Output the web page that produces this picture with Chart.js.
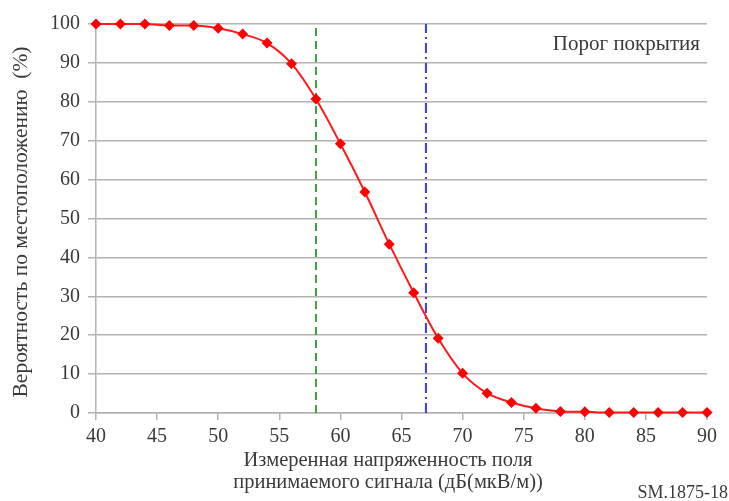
<!DOCTYPE html>
<html>
<head>
<meta charset="utf-8">
<title>Вероятность по местоположению</title>
<script src="https://cdn.jsdelivr.net/npm/chart.js@4.4.1/dist/chart.umd.min.js"></script>
<style>
  body { margin: 0; background: #fff; }
  canvas { display: block; }
</style>
</head>
<body>
<canvas id="mycanvas" width="729" height="501"></canvas>
<script>
// напряженность поля, дБ(мкВ/м)
var fieldStrength = [40, 42, 44, 46, 48, 50, 52, 54, 56, 58, 60, 62, 64,
                     66, 68, 70, 72, 74, 76, 78, 80, 82, 84, 86, 88, 90];
// вероятность по местоположению, %
var probability = [100, 100, 100, 99.6, 99.6, 98.9, 97.4, 95.1, 89.8, 80.7, 69.2, 56.8, 43.4,
                   30.9, 19.2, 10.2, 5.1, 2.7, 1.2, 0.4, 0.3, 0.1, 0.1, 0.1, 0.1, 0.1];
// пороги покрытия
var thresholdGreen = 58;
var thresholdBlue = 67;
var yRange = [0, 100];
var xRange = [40, 90];

var xTitle = ['Измеренная напряженность поля', 'принимаемого сигнала (дБ(мкВ/м))'];
var yTitle = 'Вероятность по местоположению  (%)';

var serif = '"Liberation Serif", "Times New Roman", serif';
var textColor = '#3a3a3a';
var gridColor = '#b2b2b2';

var points = [];
for (var i in fieldStrength) {
    points.push({x: fieldStrength[i], y: probability[i]});
}

function vline(x) {
    return [{x: x, y: yRange[0]}, {x: x, y: yRange[1]}];
}

// подписи осей и прочий текст
var labelsPlugin = {
    id: 'labels',
    afterDraw: function(chart) {
        var ctx = chart.ctx;
        ctx.save();
        ctx.fillStyle = textColor;
        ctx.textBaseline = 'middle';

        ctx.textAlign = 'right';
        ctx.font = '21px ' + serif;
        ctx.fillText('Порог покрытия', 700, 44);
        ctx.font = '18px ' + serif;
        ctx.fillText('SM.1875-18', 728, 493);

        ctx.textAlign = 'center';
        ctx.font = '20.5px ' + serif;
        ctx.fillText(xTitle[0], 388, 461);
        ctx.fillText(xTitle[1], 388, 483);

        ctx.translate(21, 222);
        ctx.rotate(-Math.PI / 2);
        ctx.font = '21.5px ' + serif;
        ctx.fillText(yTitle, 0, 0);
        ctx.restore();
    }
};

var ctx = document.getElementById('mycanvas');
var lineGraph = new Chart(ctx, {
    type: 'line',
    data: {
        datasets: [
            {
                label: 'Вероятность',
                data: points,
                borderColor: '#ff1a1a',
                backgroundColor: '#ff0000',
                borderWidth: 2,
                cubicInterpolationMode: 'monotone',
                pointStyle: 'rectRot',
                pointRadius: 5.5,
                pointBorderWidth: 0,
                clip: false,
                order: 0
            },
            {
                label: 'Порог 1',
                data: vline(thresholdGreen),
                borderColor: '#3fa03f',
                borderWidth: 2,
                borderDash: [8, 5],
                pointRadius: 0,
                order: 1
            },
            {
                label: 'Порог 2',
                data: vline(thresholdBlue),
                borderColor: '#3a3aff',
                borderWidth: 2,
                borderDash: [10, 4, 2, 4],
                pointRadius: 0,
                order: 1
            }
        ]
    },
    options: {
        responsive: false,
        animation: false,
        events: [],
        layout: { padding: { top: 24, right: 22, left: 0, bottom: 0 } },
        plugins: {
            legend: { display: false },
            tooltip: { enabled: false }
        },
        scales: {
            x: {
                type: 'linear',
                min: xRange[0],
                max: xRange[1],
                afterFit: function(s) { s.height = 88; },
                border: { color: gridColor, width: 1.5 },
                grid: { drawOnChartArea: false, tickLength: 7, tickColor: gridColor, lineWidth: 1.5 },
                ticks: { stepSize: 5, padding: 5, color: textColor, font: { family: serif, size: 20 } }
            },
            y: {
                min: yRange[0],
                max: yRange[1],
                afterFit: function(s) { s.width = 96; },
                border: { color: gridColor, width: 1.5 },
                grid: { color: gridColor, lineWidth: 1.5, tickLength: 8 },
                ticks: { stepSize: 10, padding: 8, color: textColor, font: { family: serif, size: 20 } }
            }
        }
    },
    plugins: [labelsPlugin]
});
</script>
</body>
</html>
